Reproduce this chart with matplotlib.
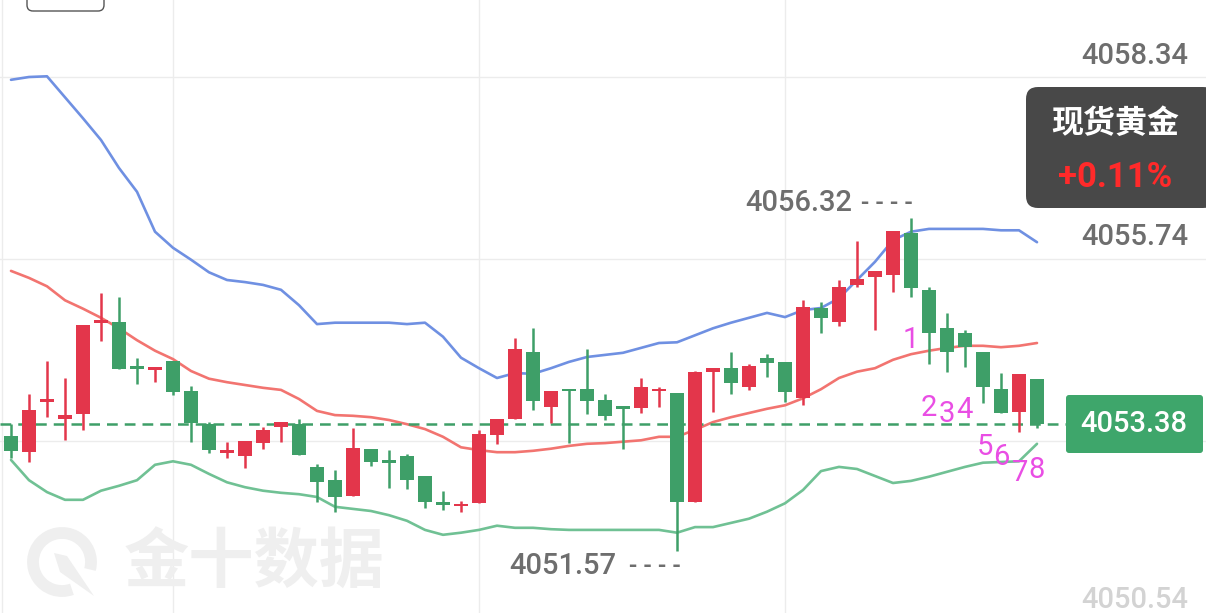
import matplotlib.pyplot as plt
from matplotlib.patches import FancyBboxPatch, Arc, Polygon
from matplotlib.transforms import IdentityTransform

# one candle per entry, oldest first
opens = [4053.21, 4052.98, 4053.70, 4053.45, 4053.53, 4054.83, 4054.84, 4054.18, 4054.15, 4054.28,
         4053.85, 4053.38, 4052.97, 4052.93, 4053.11, 4053.34, 4053.38, 4052.77, 4052.58, 4052.35,
         4053.03, 4052.84, 4052.93, 4052.64, 4052.24, 4052.21, 4052.25, 4053.23, 4053.45, 4054.41,
         4053.63, 4053.87, 4053.88, 4053.73, 4053.61, 4053.61, 4053.85, 4053.83, 4052.27, 4054.13,
         4054.18, 4053.91, 4054.33, 4054.27, 4053.75, 4055.04, 4054.84, 4055.37, 4055.48, 4055.51,
         4056.11, 4055.30, 4054.75, 4054.68, 4054.41, 4053.88, 4053.55, 4054.03]
highs = [4053.38, 4053.81, 4054.28, 4054.04, 4054.80, 4055.25, 4055.20, 4054.33, 4054.20, 4054.28,
         4053.93, 4053.41, 4053.13, 4053.14, 4053.34, 4053.41, 4053.45, 4052.81, 4052.73, 4053.33,
         4053.03, 4053.01, 4052.95, 4052.64, 4052.43, 4052.28, 4053.30, 4053.45, 4054.61, 4054.75,
         4053.85, 4053.87, 4054.45, 4053.81, 4053.61, 4054.04, 4053.91, 4053.83, 4054.14, 4054.18,
         4054.41, 4054.24, 4054.38, 4054.27, 4055.15, 4055.13, 4055.44, 4056.00, 4055.57, 4056.14,
         4056.32, 4055.34, 4054.97, 4054.73, 4054.41, 4054.11, 4054.10, 4054.03]
lows = [4052.90, 4052.84, 4053.48, 4053.15, 4053.30, 4054.57, 4054.17, 4053.95, 4053.98, 4053.80,
        4053.13, 4052.97, 4052.90, 4052.75, 4053.03, 4053.13, 4052.94, 4052.27, 4052.13, 4052.35,
        4052.78, 4052.47, 4052.45, 4052.18, 4052.15, 4052.13, 4052.25, 4053.10, 4053.45, 4053.58,
        4053.40, 4053.11, 4053.53, 4053.44, 4053.03, 4053.54, 4053.63, 4051.57, 4052.27, 4053.55,
        4053.81, 4053.87, 4054.05, 4053.70, 4053.65, 4054.68, 4054.78, 4055.34, 4054.73, 4055.27,
        4055.20, 4054.24, 4054.13, 4054.20, 4053.68, 4053.54, 4053.27, 4053.33]
closes = [4053.00, 4053.58, 4053.73, 4053.51, 4054.80, 4054.85, 4054.17, 4054.17, 4054.20, 4053.84,
          4053.40, 4053.01, 4052.98, 4053.14, 4053.30, 4053.41, 4052.94, 4052.55, 4052.34, 4053.04,
          4052.84, 4052.83, 4052.58, 4052.27, 4052.23, 4052.23, 4053.24, 4053.45, 4054.45, 4053.71,
          4053.85, 4053.85, 4053.71, 4053.50, 4053.60, 4053.91, 4053.88, 4052.27, 4054.13, 4054.18,
          4053.97, 4054.21, 4054.25, 4053.84, 4055.05, 4054.90, 4055.34, 4055.45, 4055.57, 4056.14,
          4055.33, 4054.68, 4054.41, 4054.48, 4053.91, 4053.54, 4054.10, 4053.38]

# bollinger bands
upper = [4058.30, 4058.34, 4058.35, 4058.05, 4057.75, 4057.44, 4057.04, 4056.70, 4056.13, 4055.90,
         4055.73, 4055.55, 4055.44, 4055.41, 4055.37, 4055.30, 4055.08, 4054.81, 4054.83, 4054.83,
         4054.83, 4054.83, 4054.81, 4054.83, 4054.63, 4054.33, 4054.18, 4054.04, 4054.11, 4054.10,
         4054.18, 4054.27, 4054.34, 4054.37, 4054.40, 4054.47, 4054.54, 4054.55, 4054.65, 4054.75,
         4054.83, 4054.90, 4054.97, 4054.91, 4055.01, 4055.04, 4055.18, 4055.44, 4055.70, 4056.01,
         4056.13, 4056.17, 4056.17, 4056.17, 4056.17, 4056.15, 4056.15, 4055.98]
middle = [4055.57, 4055.47, 4055.35, 4055.15, 4055.03, 4054.90, 4054.75, 4054.58, 4054.43, 4054.31,
          4054.14, 4054.03, 4053.98, 4053.94, 4053.90, 4053.87, 4053.74, 4053.57, 4053.51, 4053.50,
          4053.48, 4053.44, 4053.38, 4053.31, 4053.20, 4053.05, 4053.01, 4052.98, 4052.98, 4053.00,
          4053.03, 4053.07, 4053.10, 4053.11, 4053.13, 4053.15, 4053.20, 4053.20, 4053.30, 4053.41,
          4053.48, 4053.54, 4053.60, 4053.65, 4053.75, 4053.88, 4054.04, 4054.13, 4054.18, 4054.30,
          4054.38, 4054.43, 4054.47, 4054.50, 4054.50, 4054.48, 4054.50, 4054.54]
lower = [4052.87, 4052.58, 4052.41, 4052.30, 4052.30, 4052.43, 4052.50, 4052.58, 4052.80, 4052.85,
         4052.80, 4052.67, 4052.55, 4052.48, 4052.43, 4052.40, 4052.38, 4052.34, 4052.20, 4052.17,
         4052.14, 4052.08, 4052.00, 4051.87, 4051.80, 4051.83, 4051.87, 4051.93, 4051.90, 4051.90,
         4051.88, 4051.87, 4051.87, 4051.87, 4051.87, 4051.87, 4051.87, 4051.83, 4051.91, 4051.91,
         4051.97, 4052.03, 4052.13, 4052.25, 4052.44, 4052.71, 4052.77, 4052.74, 4052.64, 4052.54,
         4052.57, 4052.63, 4052.70, 4052.77, 4052.83, 4052.84, 4052.85, 4053.10]

grid_prices = [4058.34, 4055.74, 4053.14, 4050.54]
grid_candles = [9, 26, 43]
last_price = 4053.38
day_high = 4056.32
day_low = 4051.57
title = "现货黄金"
change = "+0.11%"

# hand-written counts drawn on the screenshot
marks = ["1", "2", "3", "4", "5", "6", "7", "8"]
mark_x = [50, 51, 52, 52.95, 54.1, 55, 56.05, 57]
mark_y = [4054.58, 4053.61, 4053.53, 4053.58, 4053.05, 4052.91, 4052.68, 4052.73]

W, H = 1206, 613
UP, DOWN = "#e3364b", "#3e9f68"
GREY = "#6e6e6e"

fig = plt.figure(figsize=(W / 100, H / 100), dpi=100)
ax = fig.add_axes([0, 0, 1, 1])
ax.set_xlim(-11 / 18, (W - 11) / 18)
ax.set_ylim(4059.44 - H / 70, 4059.44)
ax.axis("off")


def fx(px):
    return px / W


def fy(py):
    return 1 - py / H


def box(x0, y0, x1, y1, r, **kw):
    p = FancyBboxPatch((x0, H - y1), x1 - x0, y1 - y0,
                       boxstyle=f"round,pad=0,rounding_size={r}",
                       transform=IdentityTransform(), **kw)
    fig.add_artist(p)


# grid
for p in grid_prices:
    ax.axhline(p, color="#ececec", lw=1, zorder=0)
for g in grid_candles:
    ax.axvline(g, color="#ececec", lw=1, zorder=0)
ax.axvline(-0.5, color="#ececec", lw=1, zorder=0)

# watermark
fig.text(fx(254), fy(563), "金十数据", family="Noto Sans CJK SC", fontweight="bold",
         fontsize=47, color="#efefef", ha="center", va="center", zorder=0)
fig.add_artist(Arc((62, H - 562), 58, 58, theta1=-15, theta2=290, lw=8.5,
                   color="#efefef", transform=IdentityTransform()))
fig.add_artist(Polygon([(54, H - 553), (67, H - 556), (94, H - 596), (60, H - 572)],
                       closed=True, fc="#efefef", ec="none", transform=IdentityTransform()))

# bands
xs = list(range(len(upper)))
ax.plot(xs, upper, color="#6f90e2", lw=1.9, zorder=2, solid_capstyle="round")
ax.plot(xs, middle, color="#f27470", lw=1.9, zorder=2, solid_capstyle="round")
ax.plot(xs, lower, color="#70c194", lw=1.9, zorder=2, solid_capstyle="round")

# last price line
ax.plot([-0.6, 58.6], [last_price, last_price], color="#3e9f68", lw=1.8,
        ls=(0, (4.3, 2.8)), zorder=3)

# candles
for i in range(len(opens)):
    o, h, l, c = opens[i], highs[i], lows[i], closes[i]
    col = UP if c > o else DOWN
    ax.vlines(i, l, h, color=col, lw=1.8, zorder=4)
    bot = min(o, c)
    ht = max(abs(c - o), 0.035)
    ax.bar(i, ht, bottom=bot, width=0.8, color=col, lw=0, zorder=5)

# price labels on the right
num = dict(family="Roboto", fontweight="medium")
lab = dict(fontsize=21, color=GREY, ha="right", va="center", **num)
fig.text(fx(1188), fy(56), f"{grid_prices[0]:.2f}", **lab)
fig.text(fx(1188), fy(237), f"{grid_prices[1]:.2f}", **lab)
fig.text(fx(1188), fy(600), f"{grid_prices[3]:.2f}", alpha=0.3, **lab)

# high / low markers
fig.text(fx(745), fy(203), f"{day_high:.2f}", fontsize=21, color=GREY,
         ha="left", va="center", **num)
fig.text(fx(861), fy(204), "- - - -", fontsize=18, color=GREY,
         ha="left", va="center", **num)
fig.text(fx(509), fy(566), f"{day_low:.2f}", fontsize=21, color=GREY,
         ha="left", va="center", **num)
fig.text(fx(629), fy(567), "- - - -", fontsize=18, color=GREY,
         ha="left", va="center", **num)

# current price tag
box(1066, 395, 1203, 453, 3, fc="#3ea66b", ec="none")
fig.text(fx(1134), fy(424), f"{last_price:.2f}", fontsize=21,
         color="white", ha="center", va="center", **num)

# instrument tag
box(1026, 87, 1215, 208, 12, fc="#484848", ec="none")
fig.text(fx(1115), fy(124), title, family="Noto Sans CJK SC", fontweight="bold",
         fontsize=23, color="white", ha="center", va="center")
fig.text(fx(1115), fy(177), change, family="Roboto", fontweight="bold", fontsize=25,
         color="#ff2a2a", ha="center", va="center")

# top-left button outline (cut off)
box(27, -12, 104, 11, 6, fc="none", ec="#555555", lw=1)

# marks
for t, mx, my in zip(marks, mark_x, mark_y):
    ax.text(mx, my, t, family="Roboto", fontsize=21, color="#e94ee4",
            ha="center", va="center", zorder=6)

fig.savefig("out.png", dpi=100)
